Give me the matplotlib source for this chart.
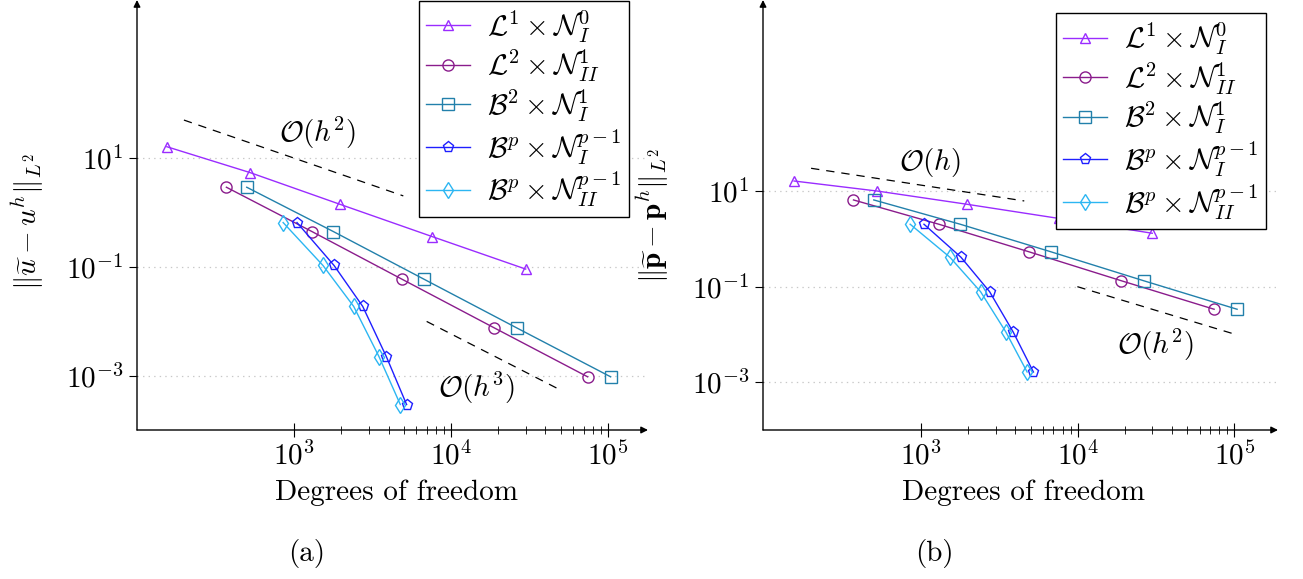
import numpy as np
import matplotlib
matplotlib.use("Agg")
import matplotlib.pyplot as plt
from matplotlib.ticker import FixedLocator, FixedFormatter, NullFormatter

plt.rcParams['mathtext.fontset'] = 'cm'
plt.rcParams['font.family'] = 'serif'
plt.rcParams['font.serif'] = ['cmr10']
plt.rcParams['axes.formatter.use_mathtext'] = True
plt.rcParams['lines.scale_dashes'] = False

# ---------------- data ----------------
series_labels = [r"$\mathcal{L}^1 \times \mathcal{N}_I^0$",
                 r"$\mathcal{L}^2 \times \mathcal{N}_{II}^1$",
                 r"$\mathcal{B}^2 \times \mathcal{N}_I^1$",
                 r"$\mathcal{B}^p \times \mathcal{N}_I^{p-1}$",
                 r"$\mathcal{B}^p \times \mathcal{N}_{II}^{p-1}$"]

dof_L1 = [155, 527, 1960, 7570, 29900]
dof_L2 = [371, 1300, 4860, 18930, 74200]
dof_B2 = [500, 1780, 6710, 26300, 104000]
dof_BpI = [1045, 1800, 2740, 3875, 5215]
dof_BpII = [853, 1530, 2400, 3480, 4755]

# (a) velocity error
u_L1 = [16.1, 5.37, 1.41, 0.36, 0.0908]
u_L2 = [2.90, 0.445, 0.0594, 0.0075, 0.00095]
u_B2 = [2.90, 0.445, 0.0594, 0.0075, 0.00095]
u_BpI = [0.650, 0.1057, 0.0187, 0.00223, 0.000294]
u_BpII = [0.650, 0.1057, 0.0187, 0.00223, 0.000294]

# (b) pressure error
p_L1 = [16.4, 10.1, 5.35, 2.7, 1.32]
p_L2 = [6.58, 2.04, 0.543, 0.134, 0.0338]
p_B2 = [6.58, 2.04, 0.543, 0.134, 0.0338]
p_BpI = [2.04, 0.415, 0.0789, 0.0113, 0.00164]
p_BpII = [2.04, 0.415, 0.0789, 0.0113, 0.00164]

# reference slopes
ref_a_h2_x = [199, 4970]
ref_a_h2_y = [49.8, 2.01]
ref_a_h3_x = [7000, 50200]
ref_a_h3_y = [0.0099, 0.000537]
ref_b_h1_x = [199, 4560]
ref_b_h1_y = [30.3, 6.27]
ref_b_h2_x = [9950, 101000]
ref_b_h2_y = [0.1005, 0.0101]

xticks = [1e3, 1e4, 1e5]
xtick_labels = [r"$10^{3}$", r"$10^{4}$", r"$10^{5}$"]
yticks = [1e1, 1e-1, 1e-3]
ytick_labels = [r"$10^{1}$", r"$10^{-1}$", r"$10^{-3}$"]
xlabel = "Degrees of freedom"
ylabel_a = r"$\Vert\widetilde{u} - u^h\Vert_{L^2}$"
ylabel_b = r"$\Vert\widetilde{\mathbf{p}} - \mathbf{p}^h\Vert_{L^2}$"

# ---------------- style ----------------
colors = ['#9a2cff', '#8a1c8c', '#2280ab', '#1f1fff', '#2cb6f2']
markers = ['^', 'o', 's', 'p', 'd']
msizes = [7, 8, 8, 8, 8]

W, H = 1303, 579
fig = plt.figure(figsize=(W / 100, H / 100), dpi=100)

def px_axes(x0, x1, ytop, ybot):
    return fig.add_axes([x0 / W, 1 - ybot / H, (x1 - x0) / W, (ybot - ytop) / H])

ax_a = px_axes(137, 648, 0, 430)
ax_b = px_axes(763, 1278, 0, 430)

FS = 21

def setup(ax, xlim, ylim, ylabel, ylab_xy, xlab_xy):
    ax.set_xscale('log')
    ax.set_yscale('log')
    ax.set_xlim(*xlim)
    ax.set_ylim(*ylim)
    for s in ax.spines.values():
        s.set_visible(False)
    ax.annotate('', xy=(1, 0), xytext=(0, 0), xycoords='axes fraction',
                arrowprops=dict(arrowstyle='-|>', lw=1.0, color='black',
                                mutation_scale=10, shrinkA=0, shrinkB=0))
    ax.annotate('', xy=(0, 1), xytext=(0, 0), xycoords='axes fraction',
                arrowprops=dict(arrowstyle='-|>', lw=1.0, color='black',
                                mutation_scale=10, shrinkA=0, shrinkB=0))
    ax.xaxis.set_major_locator(FixedLocator(xticks))
    ax.xaxis.set_major_formatter(FixedFormatter(xtick_labels))
    minors = [m * 10 ** k for k in (3, 4) for m in range(2, 10)]
    ax.xaxis.set_minor_locator(FixedLocator(minors))
    ax.xaxis.set_minor_formatter(NullFormatter())
    ax.yaxis.set_major_locator(FixedLocator(yticks))
    ax.yaxis.set_major_formatter(FixedFormatter(ytick_labels))
    ax.yaxis.set_minor_locator(FixedLocator([]))
    ax.tick_params(axis='x', which='major', direction='inout', length=10, width=0.8,
                   labelsize=FS, pad=3)
    ax.tick_params(axis='x', which='minor', direction='inout', length=6, width=0.6)
    ax.tick_params(axis='y', which='major', direction='out', length=6, width=0.8,
                   labelsize=FS, pad=4)
    ax.grid(True, axis='y', which='major', color='#c8c8c8', lw=0.9,
            linestyle=(0, (1, 3)))
    ax.set_axisbelow(True)
    ax.set_xlabel(xlabel, fontsize=FS, va='center')
    ax.xaxis.set_label_coords(*xlab_xy)
    ax.set_ylabel(ylabel, fontsize=FS, va='center')
    ax.yaxis.set_label_coords(*ylab_xy)

setup(ax_a, (10 ** 2.0, 10 ** 5.255), (10 ** -4.0, 10 ** 3.904), ylabel_a,
      (-0.215, 0.484), (0.507, -0.147))
setup(ax_b, (10 ** 1.992, 10 ** 5.278), (10 ** -4.0, 10 ** 5.006), ylabel_b,
      (-0.2136, 0.5), (0.505, -0.147))

dofs = [dof_L1, dof_L2, dof_B2, dof_BpI, dof_BpII]
for ax, ys in ((ax_a, [u_L1, u_L2, u_B2, u_BpI, u_BpII]),
               (ax_b, [p_L1, p_L2, p_B2, p_BpI, p_BpII])):
    for x, y, c, m, ms, lab in zip(dofs, ys, colors, markers, msizes, series_labels):
        ax.plot(x, y, color=c, lw=1.0, marker=m, markersize=ms,
                markerfacecolor='none', markeredgecolor=c, markeredgewidth=1.0,
                label=lab, zorder=3)

dash = (0, (6, 5))
ax_a.plot(ref_a_h2_x, ref_a_h2_y, color='black', lw=0.9, linestyle=dash)
ax_a.plot(ref_a_h3_x, ref_a_h3_y, color='black', lw=0.9, linestyle=dash)
ax_b.plot(ref_b_h1_x, ref_b_h1_y, color='black', lw=0.9, linestyle=dash)
ax_b.plot(ref_b_h2_x, ref_b_h2_y, color='black', lw=0.9, linestyle=dash)

ax_a.text(1420, 28.8, r"$\mathcal{O}(h^2)$", fontsize=FS, ha='center', va='center')
ax_a.text(14650, 5.9e-4, r"$\mathcal{O}(h^3)$", fontsize=FS, ha='center', va='center')
ax_b.text(1141, 39.2, r"$\mathcal{O}(h)$", fontsize=FS, ha='center', va='center')
ax_b.text(31500, 6.04e-3, r"$\mathcal{O}(h^2)$", fontsize=FS, ha='center', va='center')

for ax, anchor in ((ax_a, (0.963, 0.998)), (ax_b, (0.977, 0.969))):
    leg = ax.legend(loc='upper right', bbox_to_anchor=anchor, borderaxespad=0,
                    fontsize=FS, frameon=True, fancybox=False, framealpha=1,
                    edgecolor='black', handlelength=1.5, labelspacing=0.1,
                    handletextpad=0.6, borderpad=0.25)
    leg.get_frame().set_linewidth(1.0)
    leg.set_zorder(5)

fig.text(307 / W, 1 - 553 / H, "(a)", fontsize=FS, ha='center', va='center')
fig.text(934 / W, 1 - 553 / H, "(b)", fontsize=FS, ha='center', va='center')

fig.savefig("out.png", dpi=100)
